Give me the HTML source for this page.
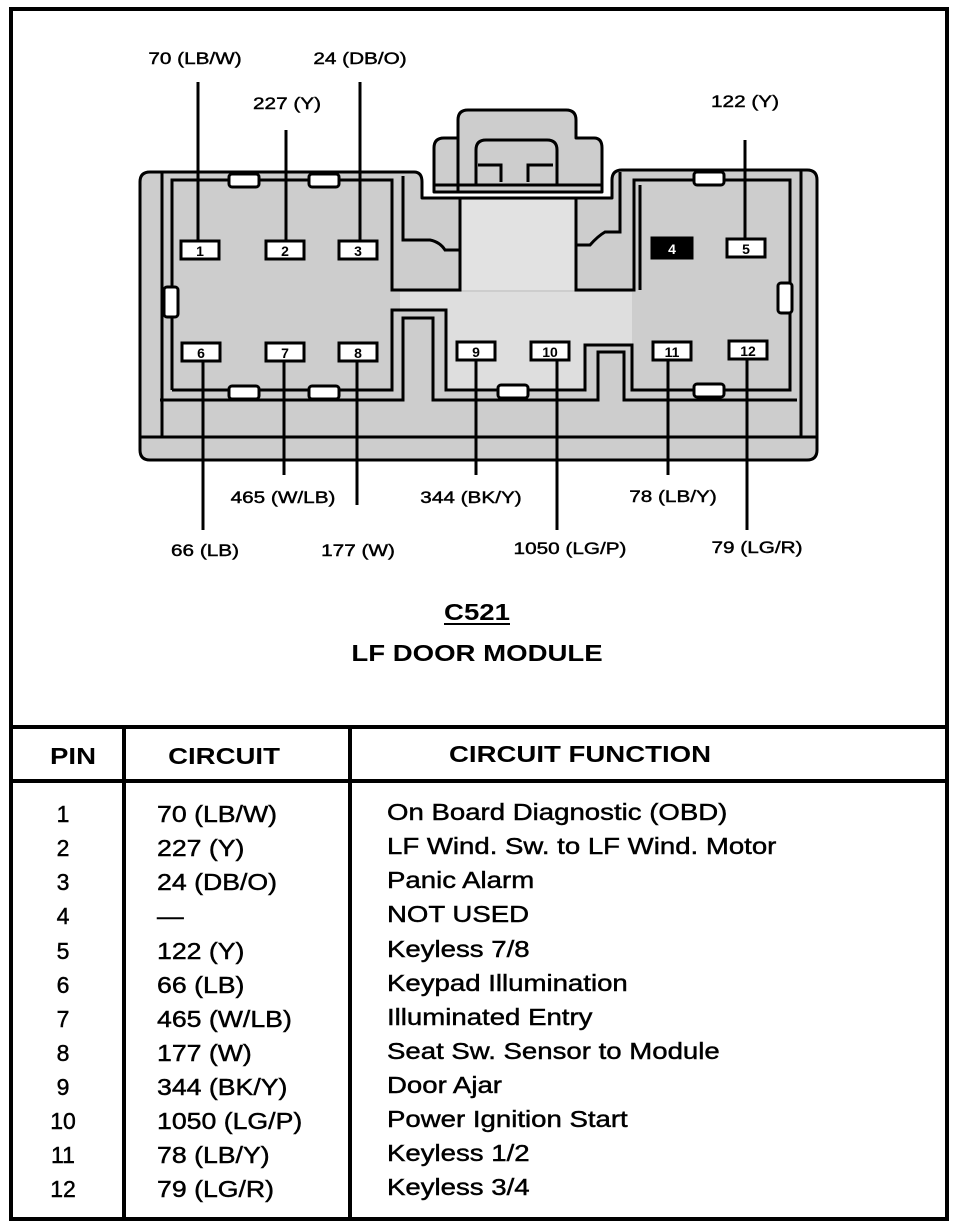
<!DOCTYPE html>
<html><head><meta charset="utf-8"><style>
html,body{margin:0;padding:0;background:#fff}
svg{display:block}
text{font-family:"Liberation Sans",Arial,sans-serif;fill:#000}
.t{stroke:#000;stroke-width:0.45}
</style></head><body>
<svg width="960" height="1230" viewBox="0 0 960 1230" xmlns="http://www.w3.org/2000/svg">
<rect x="11" y="9" width="936" height="1210" fill="none" stroke="#000" stroke-width="4"/>
<g stroke="#000" stroke-width="3" fill="#cdcdcd" stroke-linejoin="round">
<path d="M458,138 L458,120 Q458,110 468,110 L566,110 Q576,110 576,120 L576,138 L594,138 Q602,138 602,148 L602,192 L458,192 Z"/>
<path d="M434,192 L434,148 Q434,138 444,138 L458,138 L458,192 Z"/>
<path d="M150,172 L414,172 Q422,172 422,182 L422,198 L612,198 L612,180 Q612,170 622,170 L807,170 Q817,170 817,180 L817,450 Q817,460 807,460 L150,460 Q140,460 140,450 L140,182 Q140,172 150,172 Z"/>
</g>
<path d="M460,200 L576,200 L576,290 L460,290 Z" fill="#e2e2e2"/>
<path d="M400,292 L632,292 L632,345 L585,345 L585,392 L446,392 L446,310 L400,310 Z" fill="#dedede"/>
<g stroke="#000" stroke-width="3" fill="none">
<path d="M476,185 L476,150 Q476,140 486,140 L547,140 Q557,140 557,150 L557,185"/>
<path d="M478,165 L501,165 L501,182 M528,182 L528,165 L553,165"/>
<line x1="434" y1="185" x2="602" y2="185"/>
<line x1="422" y1="198" x2="612" y2="198"/>
<line x1="140" y1="437" x2="817" y2="437"/>
<line x1="162" y1="172" x2="162" y2="437"/>
<line x1="801" y1="170" x2="801" y2="437"/>
<path d="M172,390 L172,180 L392,180 L392,290 L460,290 L460,198"/>
<path d="M403,176 L403,240 L430,240 Q440,242 445,250 L460,250"/>
<path d="M576,198 L576,290 L634,290 L634,180 L790,180 L790,390 L632,390 L632,345 L585,345 L585,390 L446,390 L446,310 L392,310 L392,390 L172,390"/>
<path d="M576,245 L590,245 Q598,236 605,232 L620,232 L620,172"/>
<path d="M640,290 L640,185"/>
<path d="M160,400 L403,400 L403,318 L433,318 L433,400 L598,400 L598,352 L624,352 L624,400 L797,400"/>
</g>
<g stroke="#000" stroke-width="3" fill="#fff">
<rect x="229" y="174" width="30" height="13" rx="3"/>
<rect x="309" y="174" width="30" height="13" rx="3"/>
<rect x="694" y="172" width="30" height="13" rx="3"/>
<rect x="229" y="386" width="30" height="13" rx="3"/>
<rect x="309" y="386" width="30" height="13" rx="3"/>
<rect x="498" y="385" width="30" height="13" rx="3"/>
<rect x="694" y="384" width="30" height="13" rx="3"/>
<rect x="164" y="287" width="14" height="30" rx="3"/>
<rect x="778" y="283" width="14" height="30" rx="3"/>
</g>
<g stroke="#000" stroke-width="3">
<line x1="198" y1="82" x2="198" y2="240"/>
<line x1="286" y1="130" x2="286" y2="240"/>
<line x1="360" y1="82" x2="360" y2="240"/>
<line x1="745" y1="140" x2="745" y2="238"/>
<line x1="203" y1="360" x2="203" y2="530"/>
<line x1="284" y1="360" x2="284" y2="475"/>
<line x1="357" y1="360" x2="357" y2="505"/>
<line x1="476" y1="360" x2="476" y2="475"/>
<line x1="557" y1="360" x2="557" y2="530"/>
<line x1="668" y1="360" x2="668" y2="475"/>
<line x1="747" y1="360" x2="747" y2="530"/>
</g>
<g stroke="#000" stroke-width="3" fill="#fff">
<rect x="181" y="241" width="38" height="18"/>
<rect x="266" y="241" width="38" height="18"/>
<rect x="339" y="241" width="38" height="18"/>
<rect x="652" y="238" width="40" height="20" fill="#000"/>
<rect x="727" y="239" width="38" height="18"/>
<rect x="182" y="343" width="38" height="18"/>
<rect x="266" y="343" width="38" height="18"/>
<rect x="339" y="343" width="38" height="18"/>
<rect x="457" y="342" width="38" height="18"/>
<rect x="531" y="342" width="38" height="18"/>
<rect x="653" y="342" width="38" height="18"/>
<rect x="729" y="341" width="38" height="18"/>
</g>
<g font-size="14" font-weight="bold" text-anchor="middle">
<text x="200" y="256">1</text><text x="285" y="256">2</text><text x="358" y="256">3</text>
<text x="672" y="254" style="fill:#fff">4</text><text x="746" y="254">5</text>
<text x="201" y="358">6</text><text x="285" y="358">7</text><text x="358" y="358">8</text>
<text x="476" y="357">9</text><text x="550" y="357">10</text><text x="672" y="357">11</text><text x="748" y="356">12</text>
</g>
<g font-size="17" text-anchor="middle" class="t">
<text transform="translate(195,64) scale(1.22,1)">70 (LB/W)</text>
<text transform="translate(360,64) scale(1.22,1)">24 (DB/O)</text>
<text transform="translate(287,109) scale(1.22,1)">227 (Y)</text>
<text transform="translate(745,107) scale(1.22,1)">122 (Y)</text>
<text transform="translate(283,503) scale(1.22,1)">465 (W/LB)</text>
<text transform="translate(471,503) scale(1.22,1)">344 (BK/Y)</text>
<text transform="translate(673,502) scale(1.22,1)">78 (LB/Y)</text>
<text transform="translate(205,556) scale(1.22,1)">66 (LB)</text>
<text transform="translate(358,556) scale(1.22,1)">177 (W)</text>
<text transform="translate(570,554) scale(1.22,1)">1050 (LG/P)</text>
<text transform="translate(757,553) scale(1.22,1)">79 (LG/R)</text>
</g>
<g font-size="23" font-weight="bold" text-anchor="middle">
<text transform="translate(477,620) scale(1.2,1)">C521</text>
<text transform="translate(477,661) scale(1.2,1)">LF DOOR MODULE</text>
</g>
<line x1="444" y1="624" x2="510" y2="624" stroke="#000" stroke-width="2"/>
<g stroke="#000" stroke-width="4">
<line x1="11" y1="727" x2="947" y2="727"/>
<line x1="11" y1="781" x2="947" y2="781"/>
<line x1="124" y1="727" x2="124" y2="1219"/>
<line x1="350" y1="727" x2="350" y2="1219"/>
</g>
<g font-size="23" font-weight="bold" text-anchor="middle">
<text transform="translate(73,764) scale(1.2,1)">PIN</text>
<text transform="translate(224,764) scale(1.2,1)">CIRCUIT</text>
<text transform="translate(580,762) scale(1.2,1)">CIRCUIT FUNCTION</text>
</g>
<g font-size="23" class="t">
<g text-anchor="middle">
<text x="63" y="822">1</text><text x="63" y="856">2</text><text x="63" y="890">3</text><text x="63" y="924">4</text>
<text x="63" y="959">5</text><text x="63" y="993">6</text><text x="63" y="1027">7</text><text x="63" y="1061">8</text>
<text x="63" y="1095">9</text><text x="63" y="1129">10</text><text x="63" y="1163">11</text><text x="63" y="1197">12</text>
</g>
<g transform="translate(157,0) scale(1.16,1)">
<text x="0" y="822">70 (LB/W)</text><text x="0" y="856">227 (Y)</text><text x="0" y="890">24 (DB/O)</text>
<text x="0" y="924">—</text><text x="0" y="959">122 (Y)</text><text x="0" y="993">66 (LB)</text>
<text x="0" y="1027">465 (W/LB)</text><text x="0" y="1061">177 (W)</text><text x="0" y="1095">344 (BK/Y)</text>
<text x="0" y="1129">1050 (LG/P)</text><text x="0" y="1163">78 (LB/Y)</text><text x="0" y="1197">79 (LG/R)</text>
</g>
<g transform="translate(387,0) scale(1.2,1)">
<text x="0" y="820">On Board Diagnostic (OBD)</text>
<text x="0" y="854">LF Wind. Sw. to LF Wind. Motor</text>
<text x="0" y="888">Panic Alarm</text>
<text x="0" y="922">NOT USED</text>
<text x="0" y="957">Keyless 7/8</text>
<text x="0" y="991">Keypad Illumination</text>
<text x="0" y="1025">Illuminated Entry</text>
<text x="0" y="1059">Seat Sw. Sensor to Module</text>
<text x="0" y="1093">Door Ajar</text>
<text x="0" y="1127">Power Ignition Start</text>
<text x="0" y="1161">Keyless 1/2</text>
<text x="0" y="1195">Keyless 3/4</text>
</g>
</g>
</svg>
</body></html>
